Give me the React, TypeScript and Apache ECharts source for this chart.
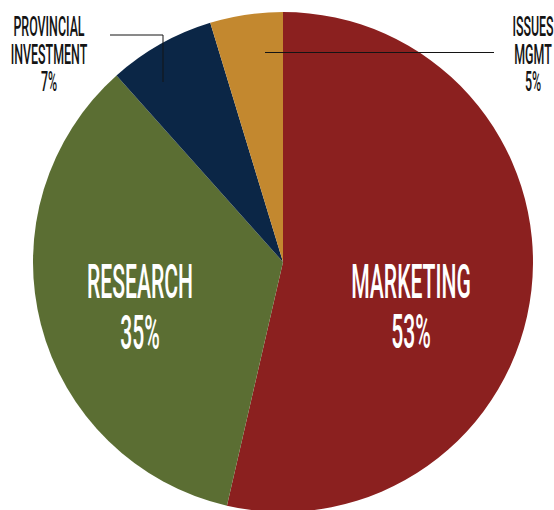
import React, { useEffect, useRef } from "react";
import * as echarts from "echarts";

// Slice shares (sum 100)
const categories = ["MARKETING", "RESEARCH", "PROVINCIAL\nINVESTMENT", "ISSUES\nMGMT"];
const values = [53.6, 34.8, 6.9, 4.7];
// Percent labels as printed on the chart
const percentLabels = ["53%", "35%", "7%", "5%"];
const colors = ["#8B201F", "#5B6E33", "#0B2646", "#C3882F"];

const FONT = "Roboto, 'Liberation Sans', Arial, sans-serif";

// Label layout (positions of label line centres, caps-centred)
const labelLayout = [
  { x: 411, ys: [281.5, 332], inside: true },
  { x: 140, ys: [281.5, 332.5], inside: true },
  { x: 49, ys: [27, 55, 82], inside: false },
  { x: 533, ys: [27, 55, 82], inside: false },
];
const leaderLines = [
  null,
  null,
  [[163, 82], [163, 35], [110, 35]],
  [[265, 52.5], [494, 52.5]],
];

export default function App() {
  const ref = useRef<HTMLDivElement>(null);
  useEffect(() => {
    document.body.style.margin = "0";
    const chart = echarts.init(ref.current!, null, { renderer: "svg" });

    const graphics: any[] = [];
    categories.forEach((name, i) => {
      const lay = labelLayout[i];
      const lines = [...name.split("\n"), percentLabels[i]];
      lines.forEach((t, j) => {
        graphics.push({
          type: "text",
          x: lay.x,
          y: lay.ys[j],
          scaleX: lay.inside ? 0.44 : 0.46,
          z: 100,
          silent: true,
          style: {
            text: t,
            align: "center",
            verticalAlign: "middle",
            fontFamily: FONT,
            fontWeight: 500,
            fontSize: lay.inside ? 48 : 27,
            fill: lay.inside ? "#ffffff" : "#141414",
          },
        });
      });
      const pts = leaderLines[i];
      if (pts) {
        graphics.push({
          type: "polyline",
          z: 100,
          silent: true,
          shape: { points: pts },
          style: { stroke: "#141414", lineWidth: 1, fill: null },
        });
      }
    });

    chart.setOption({
      animation: false,
      backgroundColor: "#ffffff",
      series: [
        {
          type: "pie",
          center: [283, 262],
          radius: 250,
          startAngle: 90,
          clockwise: true,
          silent: true,
          label: { show: false },
          labelLine: { show: false },
          data: categories.map((name, i) => ({
            name,
            value: values[i],
            itemStyle: { color: colors[i] },
          })),
        },
      ],
      graphic: { elements: graphics },
    });
    return () => chart.dispose();
  }, []);
  return <div ref={ref} style={{ width: 554, height: 510 }} />;
}
